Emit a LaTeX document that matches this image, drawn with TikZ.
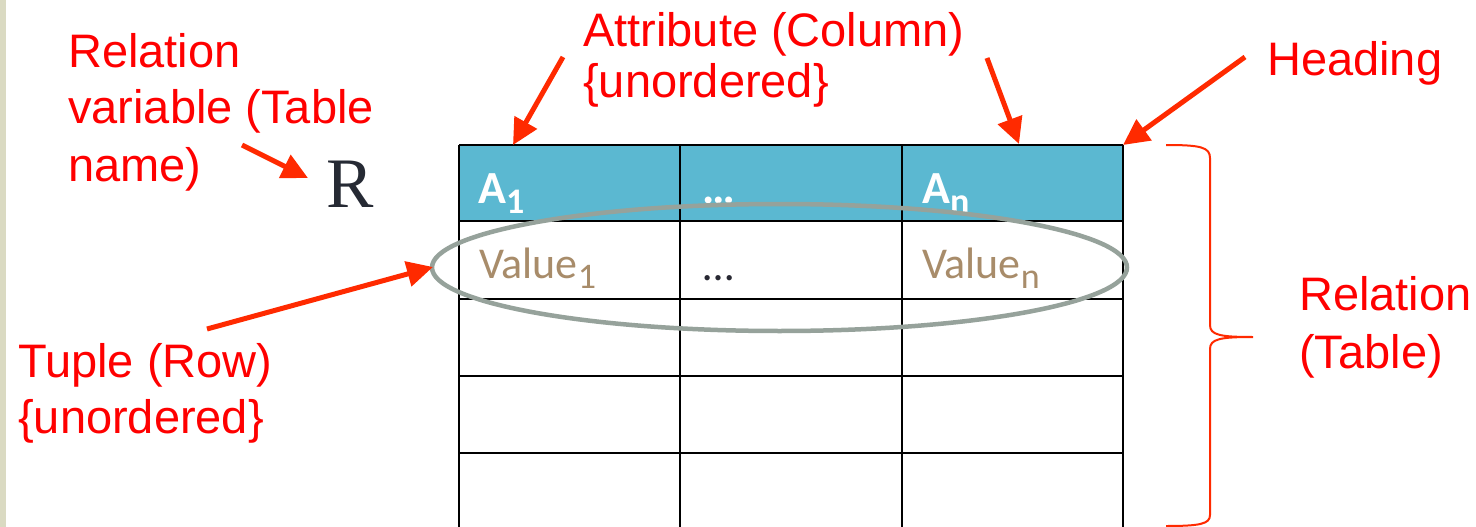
\documentclass[tikz,border=0pt]{standalone}
\usepackage{fontspec}
\setmainfont{Liberation Sans}
\newfontfamily\calibri{Carlito}
\newfontfamily\timesf{Liberation Serif}
\usetikzlibrary{arrows.meta}
\definecolor{redtxt}{RGB}{255,0,0}
\definecolor{arrowred}{RGB}{255,42,0}
\definecolor{headblue}{RGB}{91,184,209}
\definecolor{valtan}{RGB}{168,140,106}
\definecolor{ellgray}{RGB}{150,162,155}
\definecolor{rdark}{RGB}{38,42,52}
\definecolor{stripbeige}{RGB}{218,218,194}
\definecolor{dotdark}{RGB}{40,40,50}
\newcommand\mysub[1]{\raisebox{-10pt}{\fontsize{36}{36}\selectfont #1}}
\begin{document}
\begin{tikzpicture}[x=1pt,y=-1pt,
 lbl/.style={inner sep=0pt, anchor=base west, text=redtxt, font=\fontsize{47}{55}\selectfont},
 hdr/.style={inner sep=0pt, anchor=base west, text=white, font=\calibri\bfseries\fontsize{46}{50}\selectfont},
 val/.style={inner sep=0pt, anchor=base west, text=valtan, font=\calibri\fontsize{44}{50}\selectfont},
 callout/.style={draw=arrowred, line width=5pt, -{Triangle[length=26pt,width=25pt]}},
 gridline/.style={line width=2.5pt, black},
 bracestyle/.style={draw=arrowred, line width=2pt}]
\useasboundingbox (0,0) rectangle (1476,527);
\fill[white] (0,0) rectangle (1476,527);
\fill[stripbeige] (0,0) rectangle (6,527);
% table
\fill[headblue] (459,145) rectangle (1123,221);
\foreach \y in {145,221,299,376,453} \draw[gridline] (459,\y) -- (1123,\y);
\foreach \x in {459,680,902,1123} \draw[gridline] (\x,145) -- (\x,527);
% header texts
\node[hdr] (a1) at (478,203) {A\mysub{1}};
\node[hdr] (adots) at (702,203) {\dots};
\node[hdr] (an) at (922,203) {A\mysub{n}};
% values
\node[val] (v1) at (479,278) {Value\mysub{1}};
\node[val, text=dotdark] (vdots) at (703,280) {\dots};
\node[val] (vn) at (922,278) {Value\mysub{n}};
% tuple ellipse
\draw[ellgray, line width=4.5pt] (779.5,267.5) ellipse [x radius=347.5, y radius=63.5];
% R
\node[inner sep=0pt, anchor=base west, text=rdark, font=\timesf\fontsize{71}{71}\selectfont] (R) at (326,207) {R};
% labels
\node[lbl] (rv1) at (68,68) {Relation};
\node[lbl] (rv2) at (68,123) {variable (Table};
\node[lbl] (rv3) at (68,181) {name)};
\node[lbl] (at1) at (583,47) {Attribute (Column)};
\node[lbl] (at2) at (583,98) {\{unordered\}};
\node[lbl] (hd) at (1267,76) {Heading};
\node[lbl] (tu1) at (18,377) {Tuple (Row)};
\node[lbl] (tu2) at (18,433) {\{unordered\}};
\node[lbl] (re1) at (1299,310) {Relation};
\node[lbl] (re2) at (1299,368) {(Table)};
% arrow endpoints
\coordinate (rvS) at (242,145);
\coordinate (rvE) at (308,178);
\coordinate (at1S) at (563,57);
\coordinate (at1E) at (513,145);
\coordinate (at2S) at (987,58);
\coordinate (at2E) at (1019,144);
\coordinate (hdS) at (1245,57);
\coordinate (hdE) at (1123,145);
\coordinate (tuS) at (207,329);
\coordinate (tuE) at (433,267);
\draw[callout] (rvS) -- (rvE);
\draw[callout] (at1S) -- (at1E);
\draw[callout] (at2S) -- (at2E);
\draw[callout] (hdS) -- (hdE);
\draw[callout] (tuS) -- (tuE);
% brace
\draw[bracestyle] (1166,145) .. controls (1200,145) and (1210,147) .. (1210,158)
  -- (1210,325) .. controls (1210,335) and (1220,337) .. (1253,337)
  .. controls (1220,337) and (1210,339) .. (1210,349)
  -- (1210,515) .. controls (1210,524) and (1200,526) .. (1166,526);
\end{tikzpicture}
\end{document}
